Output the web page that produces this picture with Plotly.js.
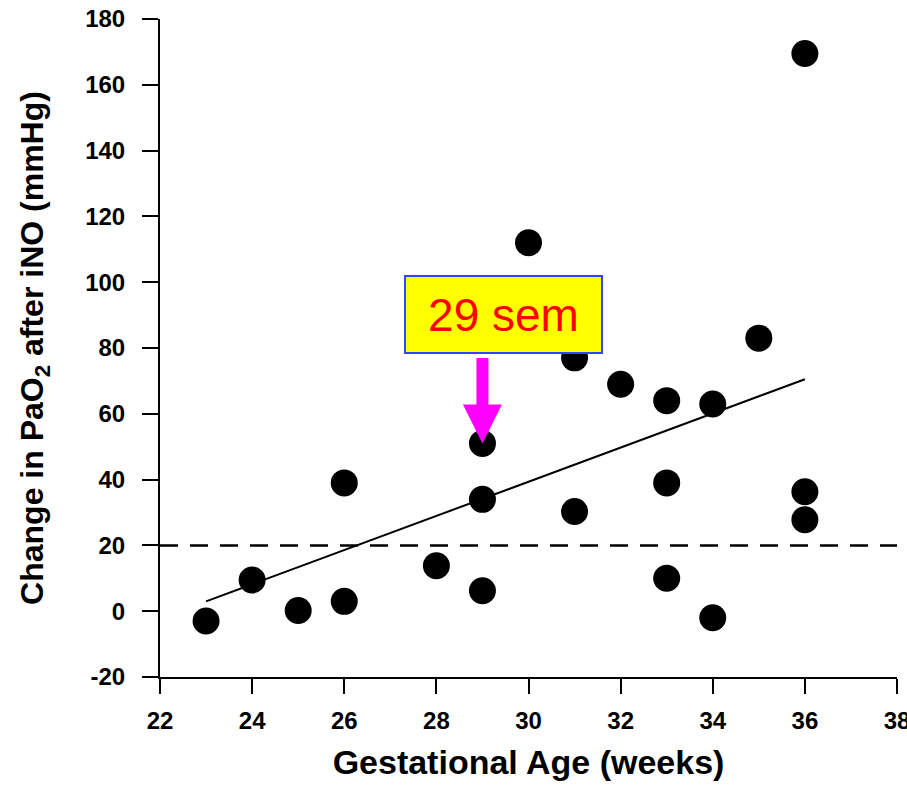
<!DOCTYPE html>
<html>
<head>
<meta charset="utf-8">
<script src="https://cdn.plot.ly/plotly-3.0.1.min.js"></script>
<style>html,body{margin:0;padding:0;background:#fff;}#chart{width:907px;height:786px;}</style>
</head>
<body>
<div id="chart"></div>
<script>
// Gestational age (weeks) and change in PaO2 after iNO (mmHg)
const gestAge = [23, 24, 25, 26, 26, 28, 29, 29, 29, 30, 31, 31, 32, 33, 33, 33, 34, 34, 35, 36, 36, 36];
const deltaPaO2 = [-3, 9.5, 0.2, 39, 3, 13.8, 51, 34, 6.2, 112, 77, 30.3, 69, 64, 39, 10, 63, -2, 83, 169.5, 36.3, 27.8];
// Regression line end points
const fitX = [23, 36];
const fitY = [3, 70.5];
// Threshold line
const thresholdX = [22, 38];
const thresholdY = [20, 20];
// Axis ticks
const xTicks = [22, 24, 26, 28, 30, 32, 34, 36, 38];
const yTicks = [-20, 0, 20, 40, 60, 80, 100, 120, 140, 160, 180];
// Annotation
const highlightLabel = '29 sem';
const highlightX = 29;
const highlightY = 51;

const font = 'Arial, "Liberation Sans", sans-serif';

const traces = [
  {x: thresholdX, y: thresholdY, mode: 'lines', type: 'scatter',
   line: {color: '#000', width: 2.5, dash: '18px,12px'}, hoverinfo: 'skip', cliponaxis: false},
  {x: fitX, y: fitY, mode: 'lines', type: 'scatter',
   line: {color: '#000', width: 2}, hoverinfo: 'skip'},
  {x: gestAge, y: deltaPaO2, mode: 'markers', type: 'scatter',
   marker: {color: '#000', size: 27, line: {width: 0}}, cliponaxis: false}
];

const layout = {
  width: 907, height: 786,
  margin: {l: 160, r: 10, t: 19, b: 109},
  paper_bgcolor: '#fff', plot_bgcolor: '#fff',
  showlegend: false,
  font: {family: font, color: '#000'},
  xaxis: {
    range: [22, 38], tickvals: xTicks, ticktext: xTicks.map(String),
    showgrid: false, zeroline: false, showline: true, linecolor: '#000', linewidth: 2,
    ticks: 'outside', ticklen: 15, tickwidth: 2, tickcolor: '#000',
    tickfont: {family: font, size: 24, weight: 'bold', color: '#000'},
    ticklabelstandoff: 6, ticklabeloverflow: 'allow',
    title: {text: 'Gestational Age (weeks)', font: {family: font, size: 34, weight: 'bold', color: '#000'}, standoff: 17},
    automargin: false
  },
  yaxis: {
    range: [-20, 180], tickvals: yTicks, ticktext: yTicks.map(String),
    showgrid: false, zeroline: false, showline: true, linecolor: '#000', linewidth: 2,
    ticks: 'outside', ticklen: 16, tickwidth: 2, tickcolor: '#000',
    tickfont: {family: font, size: 24, weight: 'bold', color: '#000'},
    ticklabelstandoff: 12, ticklabeloverflow: 'allow',
    title: {text: 'Change in PaO<sub>2</sub> after iNO (mmHg)', font: {family: font, size: 32, weight: 'bold', color: '#000'}, standoff: 32},
    automargin: false
  },
  annotations: [
    {x: highlightX, y: highlightY, xref: 'x', yref: 'y', text: ' ', showarrow: true,
     ax: 0, ay: -88, axref: 'pixel', ayref: 'pixel',
     arrowhead: 2, arrowsize: 0.65, arrowwidth: 12, arrowcolor: '#ff00ff', standoff: 0, startstandoff: 0,
     font: {size: 2}},
    {x: 29.45, y: 90.3, xref: 'x', yref: 'y', text: highlightLabel, showarrow: false,
     font: {family: font, size: 46, color: '#ff0000'},
     bgcolor: '#ffff00', bordercolor: '#3344ff', borderwidth: 2, borderpad: 0,
     width: 195, height: 75, xanchor: 'center', yanchor: 'middle', align: 'center', valign: 'middle'}
  ]
};

Plotly.newPlot('chart', traces, layout, {displayModeBar: false, staticPlot: true});
</script>
</body>
</html>
